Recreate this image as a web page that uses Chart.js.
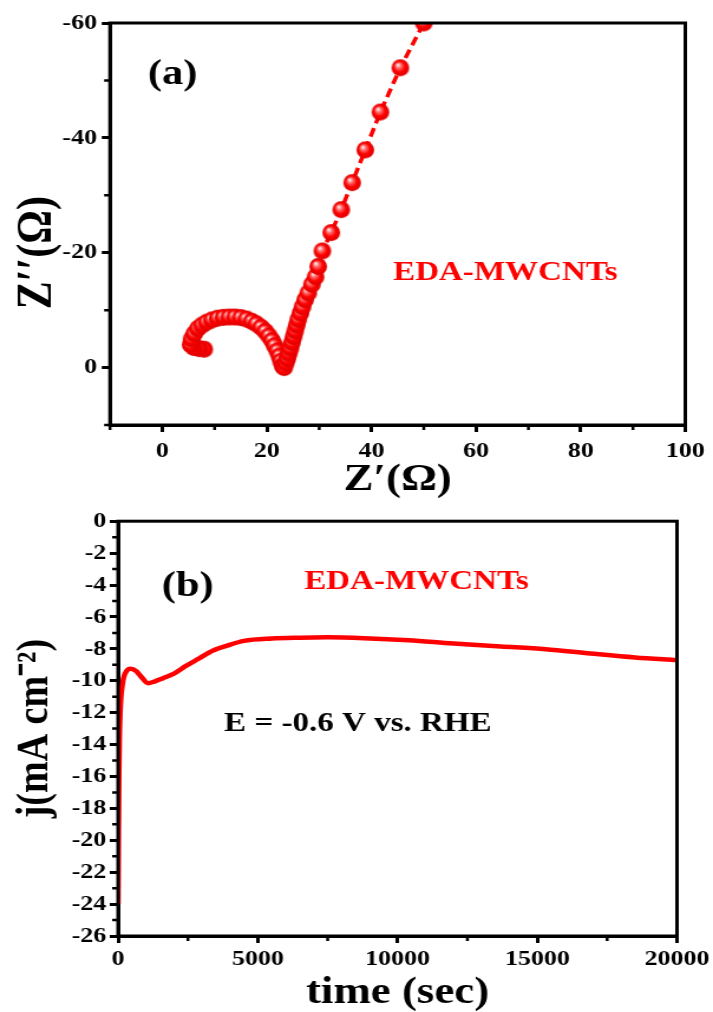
<!DOCTYPE html>
<html>
<head>
<meta charset="utf-8">
<script src="https://cdn.jsdelivr.net/npm/chart.js@4.4.1/dist/chart.umd.min.js"></script>
<style>
html, body { margin: 0; padding: 0; background: #fff; }
#wrap { position: relative; width: 713px; height: 1012px; overflow: hidden; }
/* the source figure is stretched sideways, so draw narrow and widen */
.panel { position: absolute; left: 0; transform-origin: 0 0; transform: scaleX(1.1805); }
</style>
</head>
<body>
<div id="wrap">
  <div class="panel" style="top:0px"><canvas id="eis" width="604" height="505"></canvas></div>
  <div class="panel" style="top:505px"><canvas id="ca" width="604" height="507"></canvas></div>
</div>
<script>
// (a) Nyquist plot, EDA-MWCNTs
const zReal = [8.0, 7.0, 6.0, 5.4, 5.6, 6.1, 6.8, 7.6, 8.5, 9.5, 10.6, 11.7, 12.8, 13.9, 15.0, 16.1, 17.1, 18.0, 18.9, 19.7, 20.4, 21.0, 21.5, 22.0, 22.4, 22.7, 23.0,
  23.3, 23.6, 23.9, 24.2, 24.5, 24.8, 25.1, 25.4, 25.7, 26.0, 26.4, 26.8, 27.3, 27.9, 28.6, 29.3, 29.8, 30.6, 32.3, 34.2, 36.3, 38.8, 41.7, 45.5, 50.0]
const zImag = [-3.2, -3.3, -3.5, -4.0, -5.0, -5.9, -6.8, -7.4, -7.9, -8.3, -8.6, -8.75, -8.8, -8.8, -8.7, -8.45, -8.05, -7.6, -7.0, -6.3, -5.5, -4.7, -3.8, -2.9, -2.0, -1.1, -0.3,
  0.0, -0.8, -1.6, -2.5, -3.4, -4.4, -5.4, -6.4, -7.4, -8.4, -9.5, -10.6, -11.8, -13.0, -14.5, -15.8, -17.6, -20.3, -23.5, -27.5, -32.2, -37.9, -44.5, -52.2, -60.0]
const zXTicks = [0, 20, 40, 60, 80, 100]
const zXMinor = [-10, 10, 30, 50, 70, 90]
const zYTicks = [-60, -40, -20, 0]
const zYMinor = [-50, -30, -10, 10]

// (b) current density vs time at E = -0.6 V vs. RHE
const time = [0, 15, 30, 50, 75, 100, 150, 200, 300, 450, 650, 850, 1070, 1300, 1600, 2000, 2400, 2900, 3400, 3900, 4500, 5500, 6500, 7500, 8800, 10400, 12000, 13700, 15300, 16900, 18500, 20000]
const jCurrent = [-24.0, -19.5, -16.0, -13.5, -12.0, -11.1, -10.3, -9.8, -9.4, -9.25, -9.4, -9.8, -10.15, -10.05, -9.85, -9.55, -9.1, -8.6, -8.1, -7.8, -7.5, -7.35, -7.3, -7.28, -7.33, -7.46, -7.67, -7.85, -8.02, -8.29, -8.54, -8.71]
const tTicks = [0, 5000, 10000, 15000, 20000]
const tMinor = [2500, 7500, 12500, 17500]
const jTicks = [0, -2, -4, -6, -8, -10, -12, -14, -16, -18, -20, -22, -24, -26]
const jMinor = [-1, -3, -5, -7, -9, -11, -13, -15, -17, -19, -21, -23, -25]

const RED = '#ff0000'
const SERIF = '"Liberation Serif", "Times New Roman", serif'

Chart.defaults.animation = false
Chart.defaults.font.family = SERIF
Chart.defaults.font.size = 22
Chart.defaults.font.weight = 'bold'
Chart.defaults.color = '#000'

// shiny red ball used as marker
function makeBall(r) {
    const w = Math.round(2 * r / 1.15) + 2
    const h = 2 * r + 2
    const c = document.createElement('canvas')
    c.width = w
    c.height = h
    const g = c.getContext('2d')
    g.translate(w / 2, h / 2)
    g.scale((w - 2) / (h - 2), 1)
    const grad = g.createRadialGradient(-r * 0.3, -r * 0.35, r * 0.05, 0, 0, r)
    grad.addColorStop(0, '#fff2f2')
    grad.addColorStop(0.28, '#ff6a6a')
    grad.addColorStop(0.62, '#ff0000')
    grad.addColorStop(1, '#dc0000')
    g.fillStyle = grad
    g.beginPath()
    g.arc(0, 0, r, 0, Math.PI * 2)
    g.fill()
    return c
}

// box round the plot, minor ticks and the text labels
const frame = {
    id: 'frame',
    afterDatasetsDraw(chart, args, opts) {
        const { ctx, chartArea: a, scales } = chart
        ctx.save()
        ctx.strokeStyle = '#000'
        ctx.lineWidth = 3
        ctx.strokeRect(a.left, a.top, a.right - a.left, a.bottom - a.top)
        ctx.lineWidth = 2.5
        ctx.beginPath()
        opts.xMinor.forEach(v => {
            const x = scales.x.getPixelForValue(v)
            ctx.moveTo(x, a.bottom)
            ctx.lineTo(x, a.bottom + 5)
        })
        opts.yMinor.forEach(v => {
            const y = scales.y.getPixelForValue(v)
            ctx.moveTo(a.left, y)
            ctx.lineTo(a.left - 5, y)
        })
        ctx.stroke()
        ctx.textAlign = 'center'
        ctx.textBaseline = 'middle'
        opts.notes.forEach(n => {
            ctx.font = 'bold ' + n.size + 'px ' + SERIF
            ctx.fillStyle = n.color
            ctx.fillText(n.text, scales.x.getPixelForValue(n.x), scales.y.getPixelForValue(n.y))
        })
        // y title drawn here when it sits off the middle of the axis
        if (opts.yTitle) {
            const t = opts.yTitle
            ctx.font = 'bold ' + t.size + 'px ' + SERIF
            ctx.fillStyle = '#000'
            ctx.translate(t.left, scales.y.getPixelForValue(t.at))
            ctx.rotate(-Math.PI / 2)
            ctx.fillText(t.text, 0, 0)
        }
        ctx.restore()
    }
}

function axis(min, max, ticks, width, height, title, titlePad, labelPad, reverse) {
    return {
        type: 'linear',
        min: min,
        max: max,
        reverse: !!reverse,
        afterBuildTicks: s => { s.ticks = ticks.map(v => ({ value: v })) },
        afterFit: s => {
            if (width) s.width = width
            if (height) s.height = height
        },
        ticks: { autoSkip: false, maxRotation: 0, padding: labelPad, callback: v => String(v) },
        grid: { drawOnChartArea: false, drawTicks: true, tickLength: 7, lineWidth: 3, color: '#000' },
        border: { display: true, width: 3, color: '#000' },
        title: { display: !!title, text: title, font: { size: 38, weight: 'bold' }, padding: titlePad }
    }
}

const ball = makeBall(8.5)

new Chart(document.getElementById('eis'), {
    type: 'scatter',
    data: {
        datasets: [{
            data: zReal.map((x, i) => ({ x: x, y: zImag[i] })),
            showLine: true,
            borderColor: RED,
            borderWidth: 3.5,
            borderDash: [9, 5],
            pointStyle: ball,
            pointRadius: 8.5,
            backgroundColor: RED
        }]
    },
    options: {
        responsive: false,
        layout: { padding: { top: 23, right: 23.5, left: 0, bottom: 0 } },
        plugins: {
            legend: { display: false },
            tooltip: { enabled: false },
            frame: {
                xMinor: zXMinor,
                yMinor: zYMinor,
                notes: [
                    { text: '(a)', x: 2, y: -51, size: 36, color: '#000' },
                    { text: 'EDA-MWCNTs', x: 65.6, y: -16.5, size: 28, color: RED }
                ],
                yTitle: { text: 'Z\u2032\u2032(\u03A9)', size: 42, left: 32, at: -20 }
            }
        },
        scales: {
            x: axis(-10, 100, zXTicks, 0, 80, 'Z\u2032(\u03A9)', { top: 0, bottom: 2 }, 6),
            y: axis(-60, 10, zYTicks, 93.2, 0, '', { top: 0, bottom: 0 }, 4, true)
        }
    },
    plugins: [frame]
})

new Chart(document.getElementById('ca'), {
    type: 'line',
    data: {
        datasets: [{
            data: time.map((t, i) => ({ x: t, y: jCurrent[i] })),
            borderColor: RED,
            borderWidth: 4.5,
            pointRadius: 0,
            cubicInterpolationMode: 'monotone'
        }]
    },
    options: {
        responsive: false,
        layout: { padding: { top: 15, right: 27.7, left: 0, bottom: 0 } },
        plugins: {
            legend: { display: false },
            tooltip: { enabled: false },
            frame: {
                xMinor: tMinor,
                yMinor: jMinor,
                notes: [
                    { text: '(b)', x: 2490, y: -4.1, size: 36, color: '#000' },
                    { text: 'EDA-MWCNTs', x: 10680, y: -3.8, size: 28, color: RED },
                    { text: 'E = -0.6 V vs. RHE', x: 8580, y: -12.7, size: 28, color: '#000' }
                ]
            }
        },
        scales: {
            x: axis(0, 20000, tTicks, 0, 76, 'time (sec)', { top: 0, bottom: -4 }, 3),
            y: axis(-26, 0, jTicks, 100, 0, 'j(mA cm\u207B\u00B2)', { top: 7, bottom: 0 }, 3)
        }
    },
    plugins: [frame]
})
</script>
</body>
</html>
